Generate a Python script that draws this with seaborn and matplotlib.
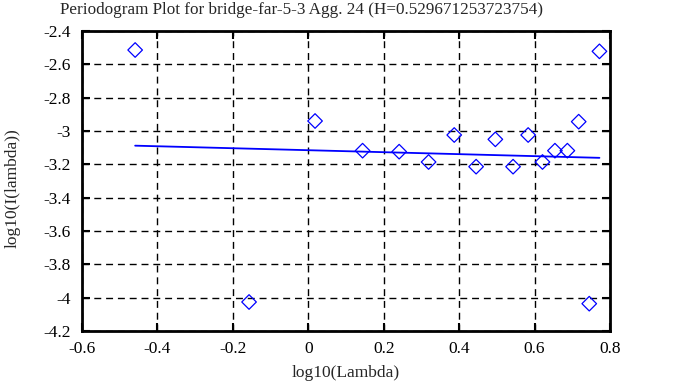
import numpy as np
import pandas as pd
import matplotlib
matplotlib.use("Agg")
import matplotlib.pyplot as plt
import seaborn as sns

# periodogram points (log10 frequency, log10 intensity)
log_lambda = [-0.459, -0.157, 0.018, 0.144, 0.241, 0.319, 0.387, 0.445, 0.496,
              0.543, 0.583, 0.621, 0.654, 0.687, 0.717, 0.745, 0.772]
log_i = [-2.514, -4.026, -2.940, -3.118, -3.124, -3.186, -3.024, -3.214, -3.050,
         -3.214, -3.024, -3.186, -3.118, -3.118, -2.944, -4.036, -2.522]

# fitted line endpoints
fit_x = [-0.459, 0.772]
fit_y = [-3.088, -3.161]

title = "Periodogram Plot for bridge-far-5-3 Agg. 24 (H=0.529671253723754)"

sns.set_theme(style="ticks")
plt.rcParams['font.family'] = ['Liberation Serif', 'DejaVu Serif']

df = pd.DataFrame({"x": log_lambda, "y": log_i})
fit = pd.DataFrame({"x": fit_x, "y": fit_y})

fig = plt.figure(figsize=(6.78, 3.87), dpi=100)
ax = fig.add_axes([0.1209, 0.1447, 0.7788, 0.7752])

sns.lineplot(data=fit, x="x", y="y", ax=ax, color="blue", lw=1.3, zorder=3)
sns.scatterplot(data=df, x="x", y="y", ax=ax, marker="D", s=55,
                facecolor="none", edgecolor="blue", linewidth=0.9, zorder=4)

ax.set_xlim(-0.6, 0.8)
ax.set_ylim(-4.2, -2.4)
ax.set_xticks(np.arange(-0.6, 0.81, 0.2))
ax.set_yticks(np.arange(-4.2, -2.39, 0.2))
ax.set_xticklabels(["-0.6", "-0.4", "-0.2", "0", "0.2", "0.4", "0.6", "0.8"])
ax.set_yticklabels(["-4.2", "-4", "-3.8", "-3.6", "-3.4", "-3.2", "-3", "-2.8", "-2.6", "-2.4"])
ax.grid(True, color="black", linestyle=(0, (5, 3.5)), linewidth=1)
ax.tick_params(direction="in", top=True, right=True, length=6, width=1.5,
               labelsize=12.5, colors="black")
ax.tick_params(axis="y", pad=8)
ax.tick_params(axis="x", pad=7)
for sp in ax.spines.values():
    sp.set_linewidth(2)
    sp.set_color("black")

ax.set_xlabel("log10(Lambda)", fontsize=12.5, labelpad=6)
ax.set_ylabel("log10(I(lambda))", fontsize=12.5)
ax.yaxis.set_label_coords(-0.117, 0.477)
fig.text(301 / 678, 1 - 10 / 387, title, fontsize=12.3, ha="center", va="center")

fig.savefig("out.png", dpi=100)
